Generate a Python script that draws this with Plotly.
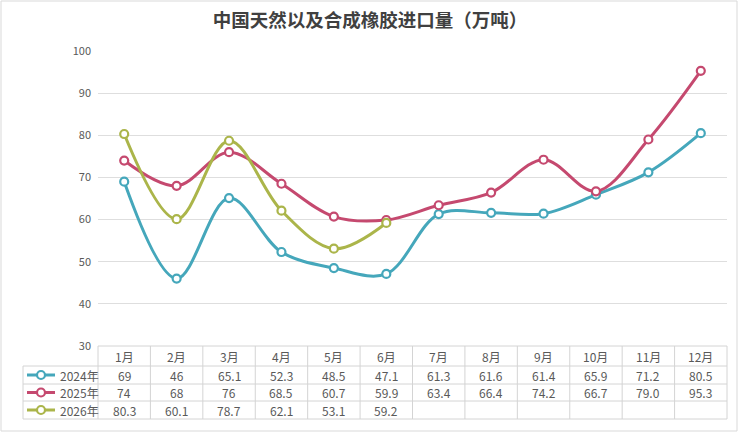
import plotly.graph_objects as go

months = ["1月", "2月", "3月", "4月", "5月", "6月", "7月", "8月", "9月", "10月", "11月", "12月"]
series_names = ["2024年", "2025年", "2026年"]
v2024 = [69, 46, 65.1, 52.3, 48.5, 47.1, 61.3, 61.6, 61.4, 65.9, 71.2, 80.5]
v2025 = [74, 68, 76, 68.5, 60.7, 59.9, 63.4, 66.4, 74.2, 66.7, 79.0, 95.3]
v2026 = [80.3, 60.1, 78.7, 62.1, 53.1, 59.2]
colors = ["#45a7bb", "#c5496f", "#abb54a"]
title = "中国天然以及合成橡胶进口量（万吨）"

W, H = 742, 436
PL, PR, PT, PB = 98, 727, 51, 346  # plot area pixel box


def px(x):
    return (x - PL) / (PR - PL)


def py(y):
    return (PB - y) / (PB - PT)


fig = go.Figure()
for name, vals, c in zip(series_names, [v2024, v2025, v2026], colors):
    fig.add_trace(go.Scatter(
        x=months[:len(vals)], y=vals, name=name, mode="lines+markers",
        line=dict(color=c, width=3, shape="spline", smoothing=1.0),
        marker=dict(symbol="circle", size=8, color="white", line=dict(color=c, width=2.2)),
        showlegend=False, cliponaxis=False,
    ))

shapes = []
annotations = []
grid_c = "#d4d4d4"
txt_c = "#595959"
font_f = "Noto Sans CJK SC"

# outer frame
shapes.append(dict(type="rect", xref="paper", yref="paper", x0=px(1), x1=px(737), y0=py(431), y1=py(1),
                   line=dict(color="#d9d9d9", width=1), fillcolor="rgba(0,0,0,0)", layer="below"))

# table geometry
row_edges = [346, 366, 384, 401, 419]
colL = 23
shapes.append(dict(type="line", xref="paper", yref="paper", x0=px(PL), x1=px(PR), y0=py(346), y1=py(346),
                   line=dict(color=grid_c, width=1)))
for yy in row_edges[1:]:
    shapes.append(dict(type="line", xref="paper", yref="paper", x0=px(colL), x1=px(PR), y0=py(yy), y1=py(yy),
                       line=dict(color=grid_c, width=1)))
shapes.append(dict(type="line", xref="paper", yref="paper", x0=px(colL), x1=px(colL), y0=py(366), y1=py(419),
                   line=dict(color=grid_c, width=1)))
for i in range(13):
    xx = PL + i * (PR - PL) / 12
    shapes.append(dict(type="line", xref="paper", yref="paper", x0=px(xx), x1=px(xx), y0=py(346), y1=py(419),
                       line=dict(color=grid_c, width=1)))

for m in months:
    annotations.append(dict(x=m, xref="x", y=py(356), yref="paper", text=m, showarrow=False,
                            font=dict(family=font_f, size=12, color=txt_c), xanchor="center", yanchor="middle"))

row_centers = [375, 392.5, 410]
for vals, c, name, rc in zip([v2024, v2025, v2026], colors, series_names, row_centers):
    for m, v in zip(months, vals):
        annotations.append(dict(x=m, xref="x", y=py(rc), yref="paper", text=str(v), showarrow=False,
                                font=dict(family=font_f, size=12, color=txt_c), xanchor="center", yanchor="middle"))
    shapes.append(dict(type="line", xref="paper", yref="paper", x0=px(27), x1=px(55), y0=py(rc), y1=py(rc),
                       line=dict(color=c, width=3)))
    shapes.append(dict(type="circle", xref="paper", yref="paper", x0=px(37), x1=px(45), y0=py(rc + 4), y1=py(rc - 4),
                       line=dict(color=c, width=2.2), fillcolor="white"))
    annotations.append(dict(x=px(58), xref="paper", y=py(rc), yref="paper", text=name, showarrow=False,
                            font=dict(family=font_f, size=12, color=txt_c), xanchor="left", yanchor="middle"))

fig.update_layout(
    width=W, height=H,
    margin=dict(l=PL, r=W - PR, t=PT, b=H - PB),
    paper_bgcolor="white", plot_bgcolor="white",
    title=dict(text=title, x=370 / W, xref="container", xanchor="center", y=1 - 21 / H, yanchor="middle",
               font=dict(family=font_f, size=18.5, color="#404040", weight="bold")),
    xaxis=dict(type="category", range=[-0.5, 11.5], showticklabels=False, showgrid=False,
               zeroline=False, showline=False, ticks=""),
    yaxis=dict(range=[30, 100], dtick=10, tick0=30, showgrid=True, gridcolor="#dedede", gridwidth=1,
               zeroline=False, showline=False, ticks="", ticklabelstandoff=6,
               tickfont=dict(family=font_f, size=11, color=txt_c)),
    shapes=shapes, annotations=annotations,
)

fig.write_html("out.html")
